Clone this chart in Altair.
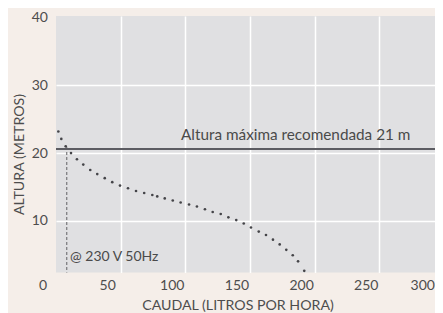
import altair as alt
import pandas as pd

# Pump curve (caudal L/h, altura m)
caudal = [1.8, 4.1, 7.5, 11.6, 16.2, 21.1, 26.5, 31.9, 37.7, 43.5, 49.5, 55.7,
          61.9, 68.2, 74.5, 78.3, 84.1, 90.3, 96.4, 102.9, 109.0, 115.2, 121.2,
          127.4, 133.3, 139.4, 145.2, 150.8, 156.8, 162.4, 167.8, 173.0, 178.1,
          183.1, 187.2, 192.0]
altura = [23.2, 22.1, 21.0, 20.0, 19.1, 18.3, 17.5, 16.9, 16.3, 15.7, 15.2, 14.8,
          14.4, 14.1, 13.8, 13.6, 13.3, 13.0, 12.7, 12.4, 12.1, 11.7, 11.3,
          11.0, 10.5, 10.1, 9.6, 9.0, 8.4, 7.9, 7.2, 6.5, 5.7,
          4.9, 4.0, 2.6]

max_height = [20.6]
max_label = ["Altura máxima recomendada 21 m"]
max_label_pos = [96.7, 22.7]

op_x = [8.3]
op_top = [20.9]
op_label = ["@ 230 V 50Hz"]
op_label_pos = [10.8, 4.6]

x_ticks = [0, 50, 100, 150, 200, 250, 300]
y_ticks = [10, 20, 30, 40]
x_domain = [0, 300]
y_domain = [2.35, 40.27]

FONT = "Lato"
TXT = "#4d4d4d"

xenc = alt.X(
    "x:Q",
    scale=alt.Scale(domain=x_domain, range=[0, 387.9], nice=False, zero=False),
    axis=alt.Axis(
        values=x_ticks, title="CAUDAL (LITROS POR HORA)", domain=False, ticks=False,
        tickSize=0, labelPadding=12.5, labelBaseline="middle",
        labelOffset={"condition": {"test": "datum.value === 300", "value": -9.5}, "value": -13.5},
        labelAlign={"condition": {"test": "datum.value === 300", "value": "right"}, "value": "center"},
        labelFont=FONT, labelFontSize=14, labelColor=TXT, labelOverlap=False,
        labelFlush=False, labelBound=False,
        titleFont=FONT, titleFontSize=14.2, titleFontWeight="normal", titleColor=TXT,
        titleX=181.5, titleY=32.5, titleBaseline="middle", titleAlign="center",
        gridColor="white", gridWidth=1.5,
        gridOpacity={"condition": {"test": "datum.value === 0 || datum.value === 300", "value": 0}, "value": 1},
    ),
)
yenc = alt.Y(
    "y:Q",
    scale=alt.Scale(domain=y_domain, nice=False, zero=False),
    axis=alt.Axis(
        values=y_ticks, title="ALTURA (METROS)", domain=False, ticks=False,
        tickSize=0, labelPadding=8.5, labelFont=FONT, labelFontSize=14,
        labelColor=TXT, labelOverlap=False, labelBound=False,
        titleFont=FONT, titleFontSize=14.2, titleFontWeight="normal", titleColor=TXT,
        titleX=-37, titleY=138, titleAngle=270, titleAlign="center", titleBaseline="middle",
        gridColor="white", gridWidth=1.5,
        gridOpacity={"condition": {"test": "datum.value === 40", "value": 0}, "value": 1},
    ),
)

curve_df = pd.DataFrame({"x": caudal, "y": altura})
vline_df = pd.DataFrame({"x": op_x, "y": op_top, "y2": [y_domain[0]]})
hline_df = pd.DataFrame({"y": max_height})
lab1_df = pd.DataFrame({"x": [max_label_pos[0]], "y": [max_label_pos[1]], "t": max_label})
lab2_df = pd.DataFrame({"x": [op_label_pos[0]], "y": [op_label_pos[1]], "t": op_label})

points = alt.Chart(curve_df).mark_circle(size=7, color="#444448", opacity=1).encode(x=xenc, y=yenc)
vline = alt.Chart(vline_df).mark_rule(color="#77777a", strokeWidth=1.2, strokeDash=[3, 2]).encode(
    x=xenc, y=yenc, y2="y2:Q")
hline = alt.Chart(hline_df).mark_rule(color="#5c5c62", strokeWidth=2).encode(y=yenc)
lab1 = alt.Chart(lab1_df).mark_text(align="left", baseline="middle", font=FONT, fontSize=15.3,
                                    color="#4a4a4a").encode(x=xenc, y=yenc, text="t:N")
lab2 = alt.Chart(lab2_df).mark_text(align="left", baseline="middle", font=FONT, fontSize=14,
                                    color="#4a4a4a").encode(x=xenc, y=yenc, text="t:N")

chart = alt.layer(vline, hline, points, lab1, lab2).properties(
    width=379, height=256.5,
    autosize=alt.AutoSizeParams(type="none"),
    padding={"left": 48, "top": 8, "right": 0, "bottom": 40},
    background="#f5eee9",
).configure_view(fill="#e0e0e2", stroke=None)

chart.save("out.html", embed_options={"renderer": "svg", "actions": False})
